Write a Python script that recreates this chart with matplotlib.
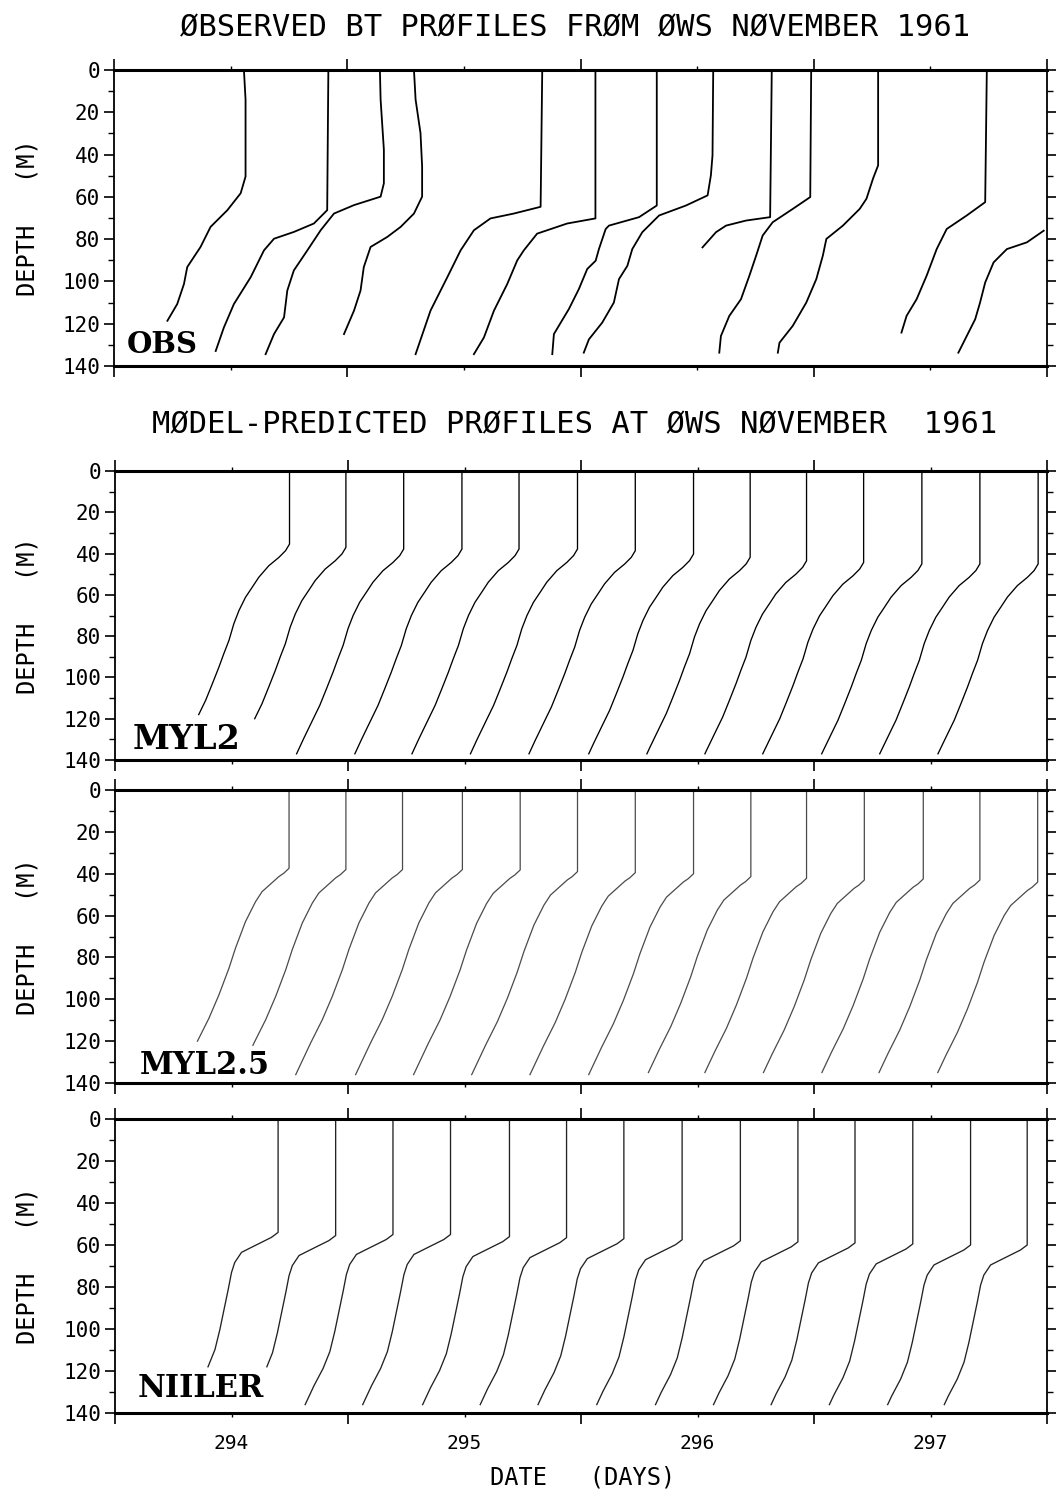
import matplotlib
matplotlib.use('Agg')
import matplotlib.pyplot as plt
from matplotlib.ticker import FixedLocator
import numpy as np

# ---------------- observed BT profiles (date, depth) ----------------
obs_A_depth = [0, 14, 50.4, 58.3, 66.3, 74.2, 83.7, 93.2, 101.2, 110.7, 118.6]
obs_A_date = [294.057, 294.064, 294.064, 294.043, 293.986, 293.914, 293.871, 293.814, 293.800, 293.771, 293.729]
obs_B_depth = [0, 66.3, 72.6, 76.6, 79.8, 85.3, 98, 110.7, 121.8, 132.9]
obs_B_date = [294.419, 294.414, 294.357, 294.271, 294.186, 294.143, 294.086, 294.014, 293.971, 293.936]
obs_C_depth = [0, 14, 37.7, 53.6, 59.9, 63.9, 67.9, 75.8, 85.3, 94.8, 104.3, 117, 124.9, 134.4]
obs_C_date = [294.640, 294.643, 294.657, 294.657, 294.643, 294.529, 294.443, 294.386, 294.329, 294.271, 294.243, 294.229, 294.186, 294.150]
obs_D_depth = [0, 14, 29.8, 45.7, 59.9, 67.9, 74.2, 79, 83.7, 93.2, 104.3, 113.8, 124.9]
obs_D_date = [294.786, 294.793, 294.814, 294.821, 294.821, 294.786, 294.729, 294.671, 294.600, 294.571, 294.557, 294.529, 294.486]
obs_E_depth = [0, 64.7, 67.9, 70.2, 75.8, 85.3, 98, 113.8, 134.4]
obs_E_date = [295.336, 295.329, 295.214, 295.114, 295.043, 294.986, 294.929, 294.857, 294.793]
obs_F_depth = [0, 70.2, 72.6, 77.4, 85.3, 90, 101.2, 113.8, 126.5, 134.4]
obs_F_date = [295.564, 295.564, 295.443, 295.314, 295.257, 295.229, 295.186, 295.129, 295.086, 295.043]
obs_G_depth = [0, 64.1, 69.6, 73.6, 75.2, 84.7, 90.2, 94.1, 103.6, 113.1, 121, 124.9, 134.4]
obs_G_date = [295.827, 295.827, 295.751, 295.622, 295.608, 295.579, 295.565, 295.529, 295.493, 295.450, 295.407, 295.386, 295.379]
obs_H_depth = [0, 40.3, 49.8, 59.3, 64.1, 68.8, 76.7, 84.7, 92.6, 98.9, 110, 119.5, 127.4, 133.7]
obs_H_date = [296.069, 296.066, 296.059, 296.045, 295.952, 295.837, 295.765, 295.722, 295.701, 295.665, 295.643, 295.593, 295.536, 295.514]
obs_I_depth = [0, 69.6, 71.2, 73.6, 76.7, 83.9]
obs_I_date = [296.320, 296.313, 296.210, 296.124, 296.081, 296.023]
obs_J_depth = [0, 60.1, 65.7, 72, 78.3, 87.8, 97.3, 108.4, 116.3, 125.8, 133.7]
obs_J_date = [296.489, 296.485, 296.410, 296.324, 296.281, 296.253, 296.224, 296.188, 296.138, 296.102, 296.095]
obs_K_depth = [0, 45.1, 51.4, 60.9, 65.7, 73.6, 79.9, 87.8, 98.9, 110, 121, 129, 133.7]
obs_K_date = [296.776, 296.776, 296.754, 296.726, 296.697, 296.625, 296.554, 296.539, 296.511, 296.468, 296.410, 296.353, 296.346]
obs_L_depth = [0, 62.5, 68.8, 75.2, 84.7, 97.3, 108.4, 116.3, 124.2]
obs_L_date = [297.242, 297.235, 297.156, 297.070, 297.027, 296.984, 296.941, 296.898, 296.876]
obs_M_depth = [76, 81.5, 84.7, 91, 100.5, 110, 117.9, 125.8, 133.7]
obs_M_date = [297.486, 297.414, 297.328, 297.271, 297.235, 297.213, 297.192, 297.156, 297.120]

obs_profiles = [(obs_A_date, obs_A_depth), (obs_B_date, obs_B_depth), (obs_C_date, obs_C_depth),
                (obs_D_date, obs_D_depth), (obs_E_date, obs_E_depth), (obs_F_date, obs_F_depth),
                (obs_G_date, obs_G_depth), (obs_H_date, obs_H_depth), (obs_I_date, obs_I_depth),
                (obs_J_date, obs_J_depth), (obs_K_date, obs_K_depth), (obs_L_date, obs_L_depth),
                (obs_M_date, obs_M_depth)]

# ---------------- model profiles ----------------
# MYL2
myl2_surface = [294.249, 294.491, 294.739, 294.989, 295.234, 295.485, 295.733,
                295.983, 296.226, 296.468, 296.713, 296.963, 297.212, 297.462]
myl2_mld = [35.4, 37.0, 37.8, 37.8, 37.8, 37.8, 38.6, 40.2, 41.8, 43.5, 44.3, 45.0, 45.0, 45.0]
myl2_end = [118, 120, 137, 137, 137, 137, 137, 137, 137, 137, 137, 137, 137, 137]
myl2_rel = [0, 3.2, 6.5, 10.5, 16.1, 20.9, 25.8, 32.2, 38.6, 46.7, 53.1, 59.6, 67.6, 75.7, 82.9, 92, 102]
myl2_dT = [0, -0.017, -0.046, -0.089, -0.132, -0.160, -0.189, -0.217, -0.239, -0.260,
           -0.282, -0.303, -0.331, -0.360, -0.391, -0.430, -0.471]

# MYL2.5
myl25_surface = [294.247, 294.491, 294.734, 294.991, 295.239, 295.485, 295.733,
                 295.983, 296.229, 296.468, 296.716, 296.969, 297.212, 297.460]
myl25_mld = [37.4, 38.0, 38.0, 38.0, 38.2, 39.0, 39.5, 40.0, 41.4, 42.2, 43.0, 42.5, 43.0, 44.0]
myl25_end = [120, 122, 136, 136, 136, 136, 136, 136, 135, 135, 135, 135, 135, 135]
myl25_rel = [0, 2.4, 4, 11.2, 16, 25.5, 38.2, 47.8, 60.5, 71.7, 82.8, 101]
myl25_dT = [0, -0.023, -0.044, -0.116, -0.144, -0.187, -0.230, -0.258, -0.301, -0.344, -0.394, -0.471]

# NIILER
niiler_surface = [294.200, 294.447, 294.693, 294.940, 295.193, 295.438, 295.684,
                  295.934, 296.184, 296.431, 296.676, 296.924, 297.172, 297.415]
niiler_mld = [54, 55.5, 55, 55, 56, 56.5, 57, 57.5, 58, 58.5, 59, 59.5, 60, 60]
niiler_end = [118, 118, 136, 136, 136, 136, 136, 136, 136, 136, 136, 136, 136, 136]
niiler_rel = [0, 2.4, 7.1, 9.5, 14.3, 19.1, 27.1, 35.1, 46.3, 55.8, 63.8, 72, 82]
niiler_dT = [0, -0.029, -0.114, -0.157, -0.186, -0.200, -0.214, -0.229, -0.250, -0.271, -0.300, -0.339, -0.381]

panel_names = ['OBS', 'MYL2', 'MYL2.5', 'NIILER']
title_obs = 'ØBSERVED BT PRØFILES FRØM ØWS NØVEMBER 1961'
title_model = 'MØDEL-PREDICTED PRØFILES AT ØWS NØVEMBER  1961'
depth_ticks = [0, 20, 40, 60, 80, 100, 120, 140]
day_ticks = [294, 295, 296, 297]
half_day_ticks = [293.5, 294.5, 295.5, 296.5, 297.5]

MONO = 'DejaVu Sans Mono'
W, H = 1056, 1499
fig = plt.figure(figsize=(W / 100, H / 100), dpi=100)


def px_axes(left, top, right, bottom):
    return fig.add_axes([left / W, 1 - bottom / H, (right - left) / W, (bottom - top) / H])


ax_obs = px_axes(114, 70, 1047, 366)
ax_m2 = px_axes(115, 471, 1047, 760)
ax_m25 = px_axes(115, 790, 1047, 1083)
ax_ni = px_axes(115, 1119, 1047, 1413)
axes = [ax_obs, ax_m2, ax_m25, ax_ni]


def model_profile(surf, mld, end, rel, dT):
    rel = np.asarray(rel, float)
    dT = np.asarray(dT, float)
    keep = rel < end - mld
    d = np.concatenate([[0.0], mld + rel[keep], [end]])
    x = np.concatenate([[surf], surf + dT[keep], [surf + np.interp(end - mld, rel, dT)]])
    return x, d


for date, depth in obs_profiles:
    ax_obs.plot(date, depth, color='black', lw=1.3, solid_joinstyle='round')

for s, m, e in zip(myl2_surface, myl2_mld, myl2_end):
    x, d = model_profile(s, m, e, myl2_rel, myl2_dT)
    ax_m2.plot(x, d, color='black', lw=0.95)

for s, m, e in zip(myl25_surface, myl25_mld, myl25_end):
    x, d = model_profile(s, m, e, myl25_rel, myl25_dT)
    ax_m25.plot(x, d, color='#4a4a4a', lw=0.9)

for s, m, e in zip(niiler_surface, niiler_mld, niiler_end):
    x, d = model_profile(s, m, e, niiler_rel, niiler_dT)
    ax_ni.plot(x, d, color='#222222', lw=0.95)

label_pos = [(0.014, 0.025, 21), (0.019, 0.014, 24), (0.027, 0.008, 22), (0.024, 0.03, 22)]

for i, ax in enumerate(axes):
    ax.set_xlim(293.5, 297.5)
    ax.set_ylim(140, 0)
    ax.set_yticks(depth_ticks)
    ax.yaxis.set_minor_locator(FixedLocator(list(range(10, 140, 20))))
    ax.set_xticks(day_ticks)
    ax.xaxis.set_minor_locator(FixedLocator(half_day_ticks))
    ax.tick_params(axis='y', which='major', direction='out', length=7, width=1.2,
                   left=True, right=True, labelsize=15, pad=3)
    ax.tick_params(axis='y', which='minor', direction='out', length=4, width=1.0,
                   left=True, right=True)
    ax.tick_params(axis='x', which='major', direction='out', length=3, width=1.0,
                   top=True, bottom=True, labelsize=14, pad=12,
                   labelbottom=(i == 3))
    ax.tick_params(axis='x', which='minor', direction='out', length=8, width=1.2,
                   top=True, bottom=True)
    for lab in ax.get_yticklabels() + ax.get_xticklabels():
        lab.set_family(MONO)
    for side in ['top', 'bottom']:
        ax.spines[side].set_linewidth(2.2)
    for side in ['left', 'right']:
        ax.spines[side].set_linewidth(1.3)
    lx, ly, lfs = label_pos[i]
    ax.text(lx, ly, panel_names[i], transform=ax.transAxes,
            ha='left', va='bottom', family='DejaVu Serif', fontweight='bold', fontsize=lfs)
    # y-axis label
    pos = ax.get_position()
    fig.text(28 / W, pos.y0 + pos.height / 2, 'DEPTH   (M)', rotation=90, ha='center', va='center',
             family=MONO, fontsize=17)

fig.text(575 / W, 1 - 28 / H, title_obs, ha='center', va='center', family=MONO, fontsize=22)
fig.text(575 / W, 1 - 425 / H, title_model, ha='center', va='center', family=MONO, fontsize=22)
fig.text(583 / W, 1 - 1478 / H, 'DATE   (DAYS)', ha='center', va='center', family=MONO, fontsize=17)

fig.savefig('out.png', dpi=100, facecolor='white')
